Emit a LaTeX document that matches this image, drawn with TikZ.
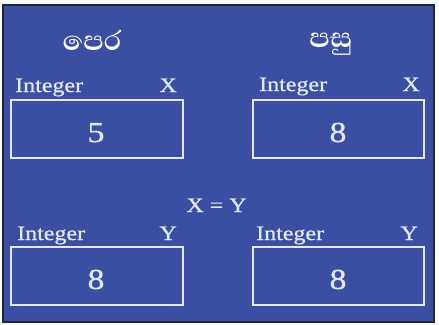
\documentclass[tikz,border=0pt]{standalone}
\usepackage{fontspec}
\setmainfont{Liberation Serif}
\newfontfamily\widefont[FakeStretch=1.17,FakeBold=0.8]{Liberation Serif}
\newfontfamily\sinhala[Script=Sinhala]{Abhaya Libre}
\definecolor{bgblue}{RGB}{58,79,162}
\definecolor{lite}{RGB}{226,231,246}
\tikzset{
  varbox/.style={draw=lite,line width=1.8pt},
  lbl/.style={text=lite,inner sep=0pt,font=\widefont\fontsize{20.5}{20.5}\selectfont},
  digit/.style={text=lite,inner sep=0pt,font=\widefont\fontsize{29}{29}\selectfont},
  head/.style={text=white,inner sep=0pt,font=\sinhala\bfseries\fontsize{35}{35}\selectfont},
}
\begin{document}
\begin{tikzpicture}[x=1pt,y=-1pt]
\useasboundingbox (0,0) rectangle (439,324);
\fill[white] (0,0) rectangle (439,324);
\draw[fill=bgblue,draw=black!85,line width=2pt] (3,5) rectangle (434,322);
% headings
\node[head] (before) at (92,40) {පෙර};
\node[head] (after) at (331,44) {පසු};
% boxes
\draw[varbox] (11,100) rectangle (183,158) coordinate (bx1);
\draw[varbox] (253,100) rectangle (424,158) coordinate (bx2);
\draw[varbox] (11,247) rectangle (183,305) coordinate (bx3);
\draw[varbox] (253,247) rectangle (424,305) coordinate (bx4);
% labels
\node[lbl,anchor=base west] (i1) at (15,92) {Integer};
\node[lbl,anchor=base east] (x1) at (177,92) {X};
\node[lbl,anchor=base west] (i2) at (259,91) {Integer};
\node[lbl,anchor=base east] (x2) at (420,91) {X};
\node[lbl,anchor=base west] (i3) at (17,240) {Integer};
\node[lbl,anchor=base east] (y3) at (177,240) {Y};
\node[lbl,anchor=base west] (i4) at (256,240) {Integer};
\node[lbl,anchor=base east] (y4) at (418,240) {Y};
\node[lbl,anchor=base] (eq) at (216.5,212) {X = Y};
% digits
\node[digit,anchor=base] (d1) at (96,142) {5};
\node[digit,anchor=base] (d2) at (338,142) {8};
\node[digit,anchor=base] (d3) at (96,289) {8};
\node[digit,anchor=base] (d4) at (338,289) {8};
\end{tikzpicture}
\end{document}
